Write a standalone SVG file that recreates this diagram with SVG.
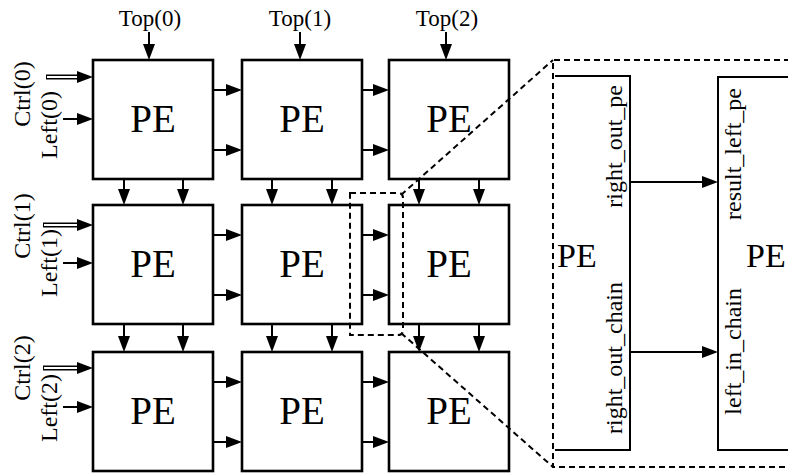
<svg xmlns="http://www.w3.org/2000/svg" width="788" height="474" viewBox="0 0 788 474">
<style>
.box{fill:#fff;stroke:#000;stroke-width:2.6}
.pe{font-family:"Liberation Serif",serif;font-size:39px;text-anchor:middle;fill:#000}
.lbl{font-family:"Liberation Serif",serif;font-size:24px;fill:#000}
.top{font-family:"Liberation Serif",serif;font-size:23px;text-anchor:middle;fill:#000}
.ar{stroke:#000;stroke-width:2;fill:none;marker-end:url(#ah)}
.dash{stroke:#000;stroke-width:2;fill:none;stroke-dasharray:6 4}
.wire{stroke:#000;stroke-width:2;fill:none}
</style>
<defs>
<marker id="ah" viewBox="0 0 16 12" refX="8" refY="6" markerWidth="16" markerHeight="12" markerUnits="userSpaceOnUse" orient="auto">
<path d="M0,0 L16,6 L0,12 Z" fill="#000"/>
</marker>
</defs>
<rect width="788" height="474" fill="#fff"/>

<g id="pe00"><rect class="box" x="93" y="60" width="120" height="119"/><text class="pe" x="153" y="132">PE</text></g>
<g id="pe01"><rect class="box" x="242" y="60" width="120" height="119"/><text class="pe" x="302" y="132">PE</text></g>
<g id="pe02"><rect class="box" x="389" y="60" width="120" height="119"/><text class="pe" x="449" y="132">PE</text></g>
<g id="pe10"><rect class="box" x="93" y="205" width="120" height="119"/><text class="pe" x="153" y="277">PE</text></g>
<g id="pe11"><rect class="box" x="242" y="205" width="120" height="119"/><text class="pe" x="302" y="277">PE</text></g>
<g id="pe12"><rect class="box" x="389" y="205" width="120" height="119"/><text class="pe" x="449" y="277">PE</text></g>
<g id="pe20"><rect class="box" x="93" y="352" width="120" height="119"/><text class="pe" x="153" y="424">PE</text></g>
<g id="pe21"><rect class="box" x="242" y="352" width="120" height="119"/><text class="pe" x="302" y="424">PE</text></g>
<g id="pe22"><rect class="box" x="389" y="352" width="120" height="119"/><text class="pe" x="449" y="424">PE</text></g>

<g id="labels">
<text class="top" x="150" y="26">Top(0)</text>
<text class="top" x="300" y="26">Top(1)</text>
<text class="top" x="447" y="26">Top(2)</text>
<text class="lbl" text-anchor="middle" transform="translate(30,94) rotate(-90)">Ctrl(0)</text>
<text class="lbl" text-anchor="middle" transform="translate(57,125) rotate(-90)">Left(0)</text>
<text class="lbl" text-anchor="middle" transform="translate(30,226) rotate(-90)">Ctrl(1)</text>
<text class="lbl" text-anchor="middle" transform="translate(57,263) rotate(-90)">Left(1)</text>
<text class="lbl" text-anchor="middle" transform="translate(30,368) rotate(-90)">Ctrl(2)</text>
<text class="lbl" text-anchor="middle" transform="translate(57,408) rotate(-90)">Left(2)</text>
</g>

<g id="connectors">
<!-- top inputs -->
<line class="ar" x1="149" y1="32" x2="149" y2="52"/>
<line class="ar" x1="300" y1="32" x2="300" y2="52"/>
<line class="ar" x1="446" y1="32" x2="446" y2="52"/>
<!-- ctrl double-line arrows -->
<g id="ctrl0"><line x1="46" y1="77" x2="82" y2="77" stroke="#000" stroke-width="5"/><line x1="47" y1="77" x2="82" y2="77" stroke="#fff" stroke-width="2.2"/><path d="M77,71 L93,77 L77,83 Z"/></g>
<g id="ctrl1"><line x1="43" y1="225" x2="82" y2="225" stroke="#000" stroke-width="5"/><line x1="44" y1="225" x2="82" y2="225" stroke="#fff" stroke-width="2.2"/><path d="M77,219 L93,225 L77,231 Z"/></g>
<g id="ctrl2"><line x1="43" y1="368" x2="82" y2="368" stroke="#000" stroke-width="5"/><line x1="44" y1="368" x2="82" y2="368" stroke="#fff" stroke-width="2.2"/><path d="M77,362 L93,368 L77,374 Z"/></g>
<!-- left inputs -->
<line class="ar" x1="63" y1="119" x2="85" y2="119"/>
<line class="ar" x1="63" y1="263" x2="85" y2="263"/>
<line class="ar" x1="63" y1="407" x2="85" y2="407"/>
<!-- horizontal between columns -->
<line class="ar" x1="213" y1="90" x2="234" y2="90"/>
<line class="ar" x1="213" y1="150" x2="234" y2="150"/>
<line class="ar" x1="362" y1="90" x2="381" y2="90"/>
<line class="ar" x1="362" y1="150" x2="381" y2="150"/>
<line class="ar" x1="213" y1="235" x2="234" y2="235"/>
<line class="ar" x1="213" y1="295" x2="234" y2="295"/>
<line class="ar" x1="362" y1="235" x2="381" y2="235"/>
<line class="ar" x1="362" y1="295" x2="381" y2="295"/>
<line class="ar" x1="213" y1="382" x2="234" y2="382"/>
<line class="ar" x1="213" y1="442" x2="234" y2="442"/>
<line class="ar" x1="362" y1="382" x2="381" y2="382"/>
<line class="ar" x1="362" y1="442" x2="381" y2="442"/>
<!-- vertical between rows -->
<line class="ar" x1="124" y1="179" x2="124" y2="197"/>
<line class="ar" x1="183" y1="179" x2="183" y2="197"/>
<line class="ar" x1="272" y1="179" x2="272" y2="197"/>
<line class="ar" x1="332" y1="179" x2="332" y2="197"/>
<line class="ar" x1="419" y1="179" x2="419" y2="197"/>
<line class="ar" x1="479" y1="179" x2="479" y2="197"/>
<line class="ar" x1="124" y1="324" x2="124" y2="344"/>
<line class="ar" x1="183" y1="324" x2="183" y2="344"/>
<line class="ar" x1="272" y1="324" x2="272" y2="344"/>
<line class="ar" x1="332" y1="324" x2="332" y2="344"/>
<line class="ar" x1="419" y1="324" x2="419" y2="344"/>
<line class="ar" x1="479" y1="324" x2="479" y2="344"/>
</g>

<g id="zoom-outline">
<path class="dash" d="M350,193 H398 Q403,193 403,198 V330 Q403,335 398,335 H350 Z"/>
<line class="dash" x1="401" y1="195" x2="553" y2="60"/>
<line class="dash" x1="401" y1="333" x2="553" y2="467"/>
<path class="dash" d="M800,60 H553 V467 H800"/>
</g>

<g id="detail-left-pe">
<path class="wire" d="M555,76 H630 V450 H555"/>
<text class="lbl" style="font-size:34px" x="557" y="267">PE</text>
<text class="lbl" text-anchor="end" transform="translate(622,85) rotate(-90)">right_out_pe</text>
<text class="lbl" text-anchor="end" transform="translate(622,282) rotate(-90)">right_out_chain</text>
</g>
<g id="detail-right-pe">
<path class="wire" d="M800,77 H718 V450 H800"/>
<text class="lbl" style="font-size:34px" x="746" y="267">PE</text>
<text class="lbl" text-anchor="end" transform="translate(741,88) rotate(-90)">result_left_pe</text>
<text class="lbl" text-anchor="end" transform="translate(741,288) rotate(-90)">left_in_chain</text>
</g>
<g id="detail-connectors">
<line class="ar" x1="630" y1="182" x2="710" y2="182"/>
<line class="ar" x1="630" y1="352" x2="710" y2="352"/>
</g>
</svg>
